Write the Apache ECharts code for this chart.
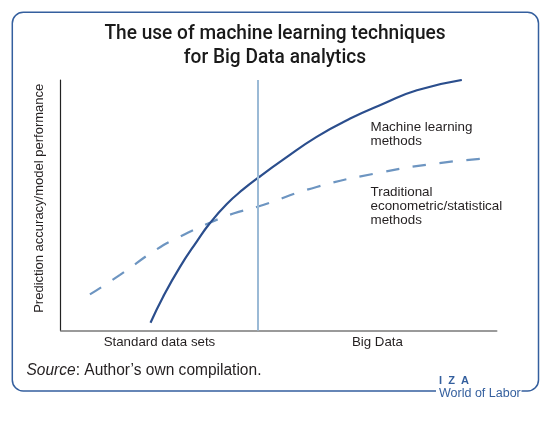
<!DOCTYPE html>
<html>
<head>
<meta charset="utf-8">
<script src="https://cdn.jsdelivr.net/npm/echarts@6/dist/echarts.min.js"></script>
<style>
html,body{margin:0;padding:0;background:#fff;}
#chart{width:554px;height:426px;}
</style>
</head>
<body>
<div id="chart"></div>
<script>
// ---- data ----
var titleLines = ['The use of machine learning techniques', 'for Big Data analytics'];
var yAxisName = 'Prediction accuracy/model performance';
var xLabels = ['Standard data sets', 'Big Data'];
var seriesNames = ['Machine learning\nmethods', 'Traditional\neconometric/statistical\nmethods'];
var splitX = 45.3; // boundary between standard data sets and Big Data
var mlX = [20.6, 23.5, 27.4, 31.2, 34.2, 38.1, 41.9, 45.3, 51.1, 58.7, 66.4, 74.0, 81.7, 92.0];
var mlY = [3.1, 13.5, 25.5, 35.5, 42.8, 50.5, 56.4, 61.0, 68.3, 77.3, 84.6, 90.5, 95.9, 100];
var tradX = [6.7, 13.6, 22.0, 27.4, 34.2, 39.6, 45.3, 58.7, 74.0, 86.2, 97.3];
var tradY = [14.4, 22.2, 32.4, 37.5, 43.0, 46.7, 49.5, 57.3, 63.3, 66.7, 68.7];
var sourceLabel = 'Source';
var sourceText = ': Author\u2019s own compilation.';
var logoTop = 'I  Z  A';
var logoBottom = 'World of Labor';

function pairs(xs, ys) { return xs.map(function (x, i) { return [x, ys[i]]; }); }
var mid1 = splitX / 2;
var mid2 = (splitX + 100) / 2;

var FONT = '"Liberation Sans", Arial, sans-serif';
var TFONT = 'Roboto, "Liberation Sans", Arial, sans-serif';
var TXT = '#231f20';
var BLUE = '#345f9e';

var chart = echarts.init(document.getElementById('chart'), null, {renderer: 'canvas'});
chart.setOption({
  animation: false,
  backgroundColor: '#ffffff',
  grid: {left: 60.7, top: 80, right: 57.3, bottom: 95.5, containLabel: false},
  xAxis: {
    type: 'value', min: 0, max: 100,
    axisLine: {show: true, onZero: false, lineStyle: {color: '#7a7a7a', width: 1.6}},
    axisTick: {show: false},
    splitLine: {show: false},
    axisLabel: {
      show: true, customValues: [mid1, mid2], margin: 5,
      color: TXT, fontFamily: FONT, fontSize: 13.3,
      formatter: function (v) { return Math.abs(v - mid1) < 1e-6 ? xLabels[0] : xLabels[1]; }
    }
  },
  yAxis: {
    type: 'value', min: 0, max: 100,
    axisLine: {show: true, onZero: false, lineStyle: {color: '#222', width: 1.2}},
    axisTick: {show: false}, axisLabel: {show: false}, splitLine: {show: false}
  },
  series: [
    {
      name: 'ml', type: 'line', data: pairs(mlX, mlY), smooth: true, showSymbol: false,
      lineStyle: {color: '#2b4e8d', width: 2.2}, silent: true, z: 3,
      markLine: {
        silent: true, symbol: 'none', label: {show: false},
        lineStyle: {color: '#9bbad6', width: 2, type: 'solid'},
        data: [{xAxis: splitX}]
      }
    },
    {
      name: 'trad', type: 'line', data: pairs(tradX, tradY), smooth: true, showSymbol: false,
      lineStyle: {color: '#6d95c1', width: 2.2, type: [13.5, 13.5]}, silent: true, z: 2
    }
  ],
  graphic: [
    {type: 'rect', shape: {x: 12.3, y: 12.3, width: 526.2, height: 378.7, r: 11},
     style: {fill: 'none', stroke: BLUE, lineWidth: 1.5}, z: 1, silent: true},
    {type: 'text', x: 275, y: 46, scaleX: 0.91, z: 10,
     style: {text: titleLines.join('\n'), font: '500 21px ' + TFONT, fill: '#1a1a1a', align: 'center', verticalAlign: 'middle', lineHeight: 24}},
    {type: 'text', x: 39, y: 198.3, rotation: Math.PI / 2, z: 10,
     style: {text: yAxisName, font: '13px ' + FONT, fill: TXT, align: 'center', verticalAlign: 'middle'}},
    {type: 'text', x: 370.5, y: 134, z: 10,
     style: {text: seriesNames[0], font: '13.4px ' + FONT, fill: TXT, align: 'left', verticalAlign: 'middle', lineHeight: 14}},
    {type: 'text', x: 370.5, y: 206.5, z: 10,
     style: {text: seriesNames[1], font: '13.4px ' + FONT, fill: TXT, align: 'left', verticalAlign: 'middle', lineHeight: 14}},
    {type: 'text', x: 26.5, y: 370.5, scaleX: 0.97, z: 10,
     style: {text: '{i|' + sourceLabel + '}{n|' + sourceText + '}', align: 'left', verticalAlign: 'middle',
       rich: {i: {fontFamily: FONT, fontSize: 16, fontStyle: 'italic', fill: TXT}, n: {fontFamily: FONT, fontSize: 16, fill: TXT}}}},
    {type: 'rect', shape: {x: 436, y: 385, width: 85.5, height: 12}, style: {fill: '#ffffff'}, z: 5, silent: true},
    {type: 'text', x: 439, y: 380.7, z: 10,
     style: {text: logoTop, font: 'bold 11px ' + FONT, fill: BLUE, align: 'left', verticalAlign: 'middle'}},
    {type: 'text', x: 439, y: 393.3, z: 10,
     style: {text: logoBottom, font: '12.5px ' + FONT, fill: BLUE, align: 'left', verticalAlign: 'middle'}}
  ]
});
</script>
</body>
</html>
